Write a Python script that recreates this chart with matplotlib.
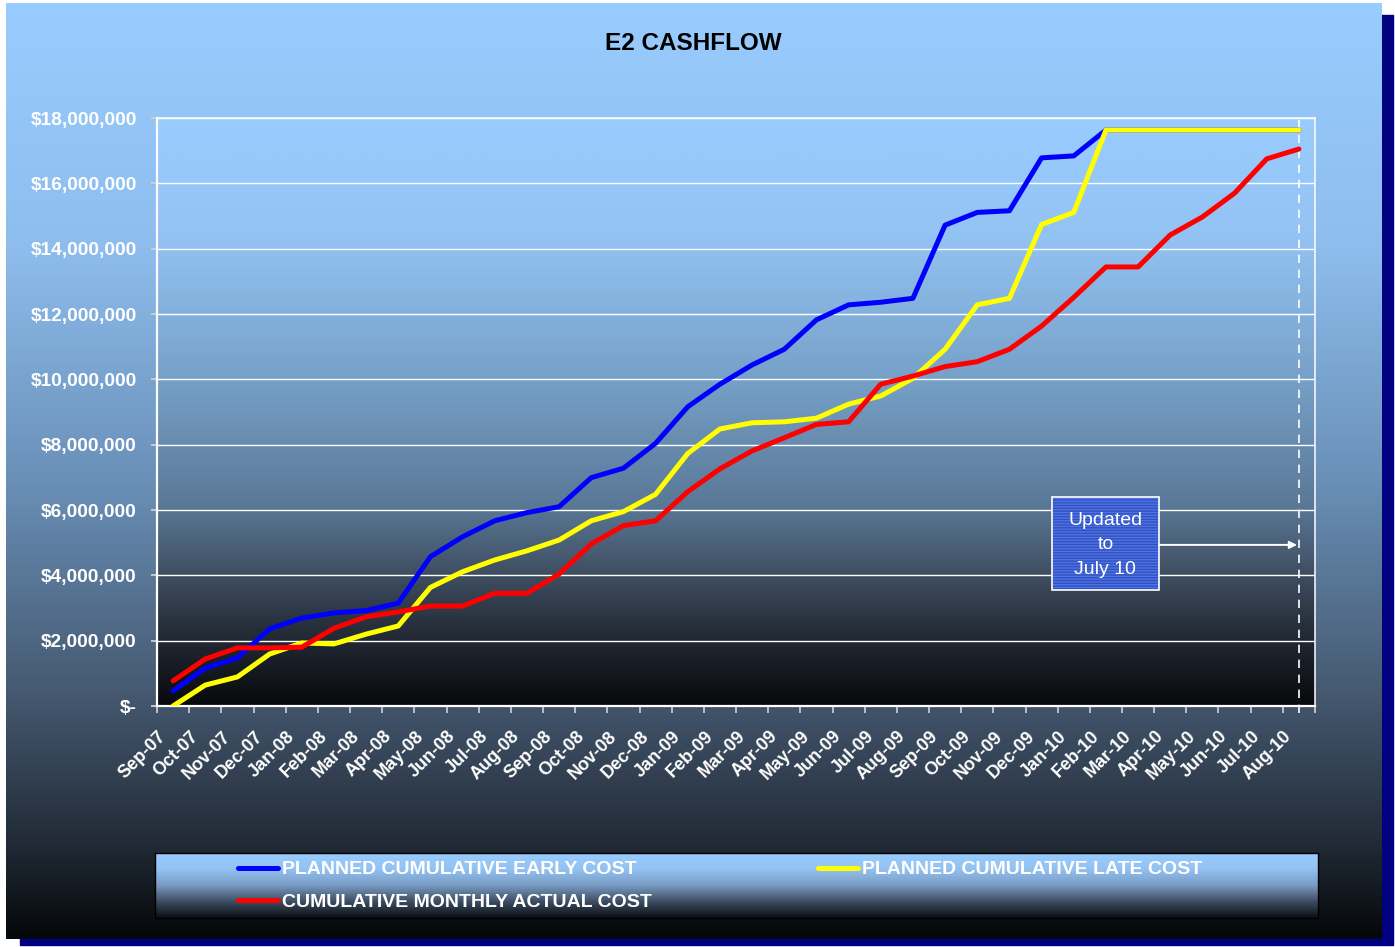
import numpy as np
import matplotlib
matplotlib.use("Agg")
import matplotlib.pyplot as plt
from matplotlib.colors import LinearSegmentedColormap
from matplotlib.patches import Rectangle
from matplotlib.lines import Line2D
from matplotlib.ticker import FuncFormatter, FixedLocator
from matplotlib.transforms import ScaledTranslation, blended_transform_factory

plt.rcParams['font.family'] = ['Liberation Sans', 'DejaVu Sans']

# month labels on the category axis
months = ["Sep-07", "Oct-07", "Nov-07", "Dec-07",
          "Jan-08", "Feb-08", "Mar-08", "Apr-08", "May-08", "Jun-08",
          "Jul-08", "Aug-08", "Sep-08", "Oct-08", "Nov-08", "Dec-08",
          "Jan-09", "Feb-09", "Mar-09", "Apr-09", "May-09", "Jun-09",
          "Jul-09", "Aug-09", "Sep-09", "Oct-09", "Nov-09", "Dec-09",
          "Jan-10", "Feb-10", "Mar-10", "Apr-10", "May-10", "Jun-10",
          "Jul-10", "Aug-10"]

# cumulative values in $ millions
early_cost = [0.46, 1.16, 1.47, 2.36, 2.69, 2.85, 2.92, 3.15, 4.57, 5.18,
              5.67, 5.92, 6.10, 6.99, 7.28, 8.04, 9.16, 9.85, 10.44, 10.92,
              11.82, 12.28, 12.36, 12.48, 14.72, 15.11, 15.16, 16.78, 16.84, 17.63,
              17.63, 17.63, 17.63, 17.63, 17.63, 17.63]
late_cost = [0.00, 0.64, 0.89, 1.59, 1.93, 1.90, 2.20, 2.45, 3.63, 4.11,
             4.47, 4.75, 5.08, 5.67, 5.95, 6.48, 7.73, 8.48, 8.67, 8.70,
             8.81, 9.24, 9.49, 10.03, 10.92, 12.28, 12.48, 14.74, 15.11, 17.63,
             17.63, 17.63, 17.63, 17.63, 17.63, 17.63]
actual_cost = [0.77, 1.44, 1.78, 1.78, 1.80, 2.38, 2.73, 2.88, 3.06, 3.06,
               3.45, 3.45, 4.04, 4.96, 5.52, 5.67, 6.56, 7.26, 7.81, 8.21,
               8.62, 8.70, 9.85, 10.10, 10.39, 10.54, 10.92, 11.63, 12.51, 13.44,
               13.44, 14.42, 14.97, 15.70, 16.75, 17.05]

update_month = "Aug-10"
y_max = 18e6
y_step = 2e6

W, H = 1395, 947


def px_box(x0, y0, x1, y1):
    # pixel box (top-left origin) -> figure fraction rect
    return [x0 / W, (H - y1) / H, (x1 - x0) / W, (y1 - y0) / H]


def fill_gradient(ax, stops):
    grad = np.linspace(0, 1, 512).reshape(-1, 1)
    cmap = LinearSegmentedColormap.from_list("grad", stops)
    ax.imshow(grad, cmap=cmap, aspect="auto", extent=(0, 1, 0, 1), origin="upper",
              interpolation="bilinear")
    ax.set_xlim(0, 1)
    ax.set_ylim(0, 1)
    ax.set_xticks([])
    ax.set_yticks([])


fig = plt.figure(figsize=(W / 100, H / 100), dpi=100, facecolor="white")

# navy drop shadow behind the chart
fig.patches.append(Rectangle((20 / W, 2 / H), 1373 / W, 930 / H,
                             transform=fig.transFigure, color="#000080", zorder=0))

# chart background
bg = fig.add_axes(px_box(6, 3, 1382, 939), zorder=1)
fill_gradient(bg, [(0.0, "#99CCFF"), (0.26, "#8EBDED"), (0.51, "#6A90B8"),
                   (0.745, "#44576E"), (0.895, "#222C38"), (1.0, "#05080A")])
for s in bg.spines.values():
    s.set_visible(False)

# plot area background
plot_rect = px_box(157, 118, 1315, 706)
pbg = fig.add_axes(plot_rect, zorder=2)
fill_gradient(pbg, [(0.0, "#99CCFF"), (0.2, "#93C3F3"), (0.446, "#76A0C8"),
                    (0.66, "#5A7896"), (0.755, "#44566B"), (0.87, "#262E3A"),
                    (1.0, "#08090C")])
for s in pbg.spines.values():
    s.set_visible(False)

ax = fig.add_axes(plot_rect, zorder=3)
ax.patch.set_alpha(0)

x = np.arange(len(months))
scale = 1e6
l_early, = ax.plot(x, np.array(early_cost) * scale, color="#0000FF", lw=3.6,
                   solid_capstyle="round", solid_joinstyle="round", zorder=4)
l_late, = ax.plot(x, np.array(late_cost) * scale, color="#FFFF00", lw=3.6,
                  solid_capstyle="round", solid_joinstyle="round", zorder=5)
l_actual, = ax.plot(x, np.array(actual_cost) * scale, color="#FF0000", lw=3.6,
                    solid_capstyle="round", solid_joinstyle="round", zorder=6)

ax.set_xlim(-0.5, len(months) - 0.5)
ax.set_ylim(0, y_max)

# y axis
ax.set_yticks(np.arange(0, y_max + 1, y_step))
ax.yaxis.set_major_formatter(FuncFormatter(lambda v, p: "$-" if v == 0 else f"${v:,.0f}"))
ax.tick_params(axis="y", direction="out", length=4.3, width=1.3, color="#D0D0D0",
               pad=10.2, labelsize=13.8, labelcolor="white")
for lab in ax.get_yticklabels():
    lab.set_fontweight("bold")
ax.grid(axis="y", color="white", lw=1.0, zorder=1)
ax.set_axisbelow(True)

# x axis: labels at category centres, tick marks between categories
ax.set_xticks(x)
ax.set_xticklabels(months, rotation=45, ha="right", va="center_baseline",
                   rotation_mode="anchor", fontsize=13, fontweight="bold", color="white")
ax.tick_params(axis="x", which="major", length=0, pad=19)
ax.xaxis.set_minor_locator(FixedLocator(np.arange(-0.5, len(months), 1)))
ax.tick_params(axis="x", which="minor", direction="out", length=5, width=1.3, color="#C8C8C8")
offset = ScaledTranslation(-11 / 100, 0, fig.dpi_scale_trans)
for lab in ax.get_xticklabels():
    lab.set_transform(lab.get_transform() + offset)

for side, lw in [("left", 1.6), ("bottom", 1.6), ("top", 1.1), ("right", 1.1)]:
    ax.spines[side].set_color("white")
    ax.spines[side].set_linewidth(lw)

# update marker
ux = months.index(update_month)
trans = blended_transform_factory(ax.transData, ax.transAxes)
ax.plot([ux, ux], [-0.012, 1.0], transform=trans, color="white", lw=1.2,
        ls=(0, (5, 4)), clip_on=False, zorder=3)

box = Rectangle((0.773, 0.197), 0.0924, 0.158, transform=ax.transAxes,
                facecolor="#3152BE", edgecolor="#4F72E6", hatch="------", lw=0, zorder=7)
ax.add_patch(box)
ax.add_patch(Rectangle((0.773, 0.197), 0.0924, 0.158, transform=ax.transAxes,
                       facecolor="none", edgecolor="white", lw=1.2, zorder=8))
ax.text(0.819, 0.274, "Updated\nto\nJuly 10", transform=ax.transAxes, ha="center",
        va="center", fontsize=14, color="white", linespacing=1.6, zorder=9)
ax.annotate("", xy=(0.9845, 0.274), xytext=(0.8654, 0.274), xycoords="axes fraction",
            arrowprops=dict(arrowstyle="-|>", color="white", lw=1.4, mutation_scale=11,
                            shrinkA=0, shrinkB=0), zorder=9)

# title
fig.text(693 / W, 1 - 44 / H, "E2 CASHFLOW", ha="center", va="center",
         fontsize=17.5, fontweight="bold", color="black", zorder=10)

# legend panel
lax = fig.add_axes(px_box(155, 853, 1318, 918), zorder=4)
fill_gradient(lax, [(0.0, "#99CCFF"), (0.25, "#93C3F3"), (0.5, "#7A9CC4"),
                    (0.75, "#3E4E62"), (1.0, "#0A0D12")])
for s in lax.spines.values():
    s.set_color("black")
    s.set_linewidth(1.0)

handles = [Line2D([], [], color="#0000FF", lw=3.6, solid_capstyle="round"),
           Line2D([], [], color="#FF0000", lw=3.6, solid_capstyle="round"),
           Line2D([], [], color="#FFFF00", lw=3.6, solid_capstyle="round")]
labels = ["PLANNED CUMULATIVE EARLY COST", "CUMULATIVE MONTHLY ACTUAL COST",
          "PLANNED CUMULATIVE LATE COST"]
leg = lax.legend(handles, labels, ncol=2, loc="upper left", bbox_to_anchor=(0.0714, 0.88),
                 frameon=False, borderpad=0, borderaxespad=0, handlelength=2.06,
                 handletextpad=0.2, columnspacing=8.55, labelspacing=0.78,
                 prop={"size": 14, "weight": "bold"})
for t in leg.get_texts():
    t.set_color("white")

fig.savefig("out.png", dpi=100, facecolor="white")
